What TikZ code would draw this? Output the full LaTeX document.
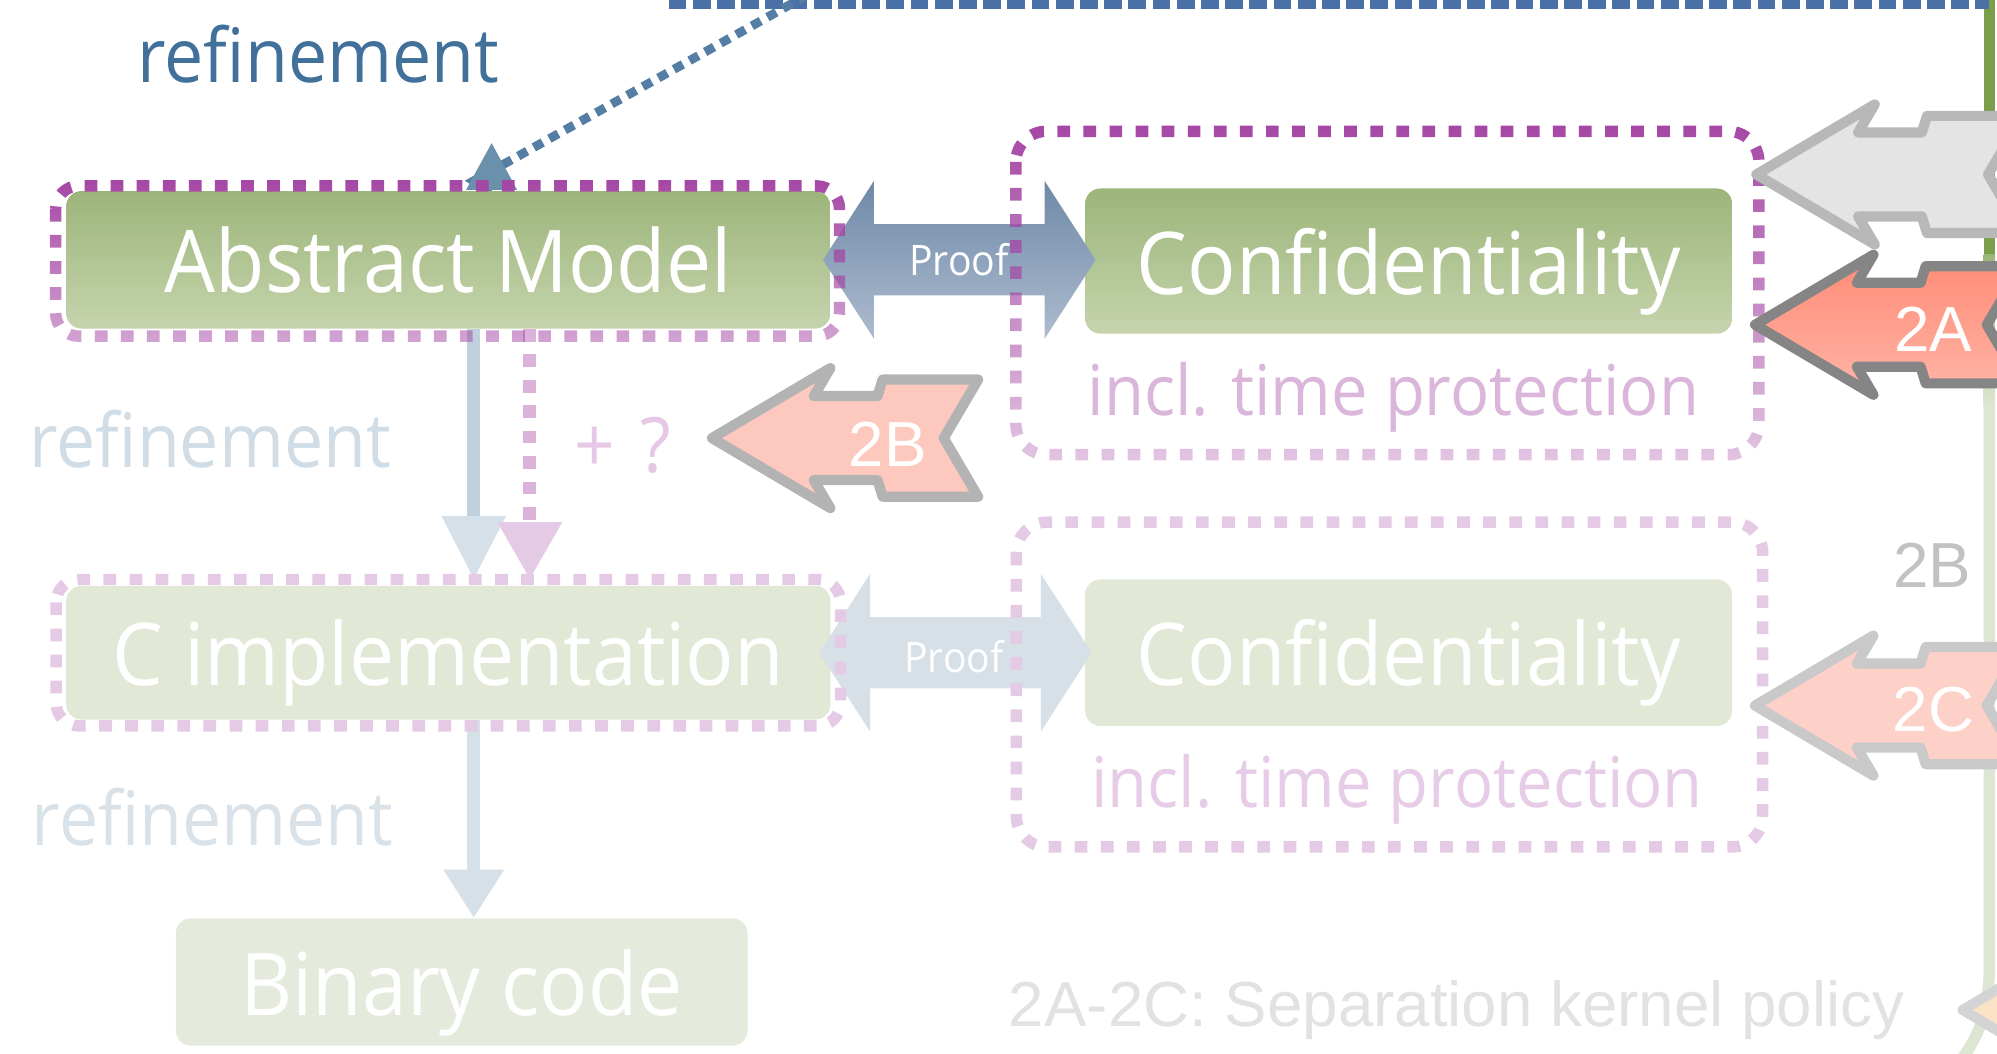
\documentclass[tikz,border=0pt]{standalone}
\usepackage{fontspec}
\setmainfont{Liberation Sans}
\newfontfamily\robo[FakeStretch=0.93]{Open Sans}
\usetikzlibrary{arrows.meta, fadings}

\newcommand{\fsz}[1]{\fontsize{#1}{#1}\selectfont}

\definecolor{refblue}{HTML}{41709A}
\definecolor{tipblue}{HTML}{6B90AC}
\definecolor{dotblue}{HTML}{4A70A8}
\definecolor{gtop}{HTML}{9CB57A}
\definecolor{gbot}{HTML}{C6D4AD}
\definecolor{gpale}{HTML}{E1E8D6}
\definecolor{gbin}{HTML}{E5EBDC}
\definecolor{gline}{HTML}{7A9E4A}
\definecolor{glinepale}{HTML}{DDE6D2}
\definecolor{pdark}{HTML}{A547A5}
\definecolor{ppale}{HTML}{E4CAE4}
\definecolor{pmid}{HTML}{DAB2DA}
\definecolor{incltop}{HTML}{DBB6DB}
\definecolor{inclbot}{HTML}{E6CCE6}
\definecolor{prooftop}{HTML}{6F89A8}
\definecolor{proofbot}{HTML}{ADBCCF}
\definecolor{proofpale}{HTML}{D7DFE7}
\definecolor{refarrow}{HTML}{C0D0DC}
\definecolor{refpale}{HTML}{D6E0E8}
\definecolor{reftext}{HTML}{D0DCE6}
\definecolor{reftextpale}{HTML}{D9E2E9}
\definecolor{qmark}{HTML}{E6C8E6}
\definecolor{sgray}{HTML}{B8B8B8}
\definecolor{sgrayfill}{HTML}{E4E4E4}
\definecolor{satop}{HTML}{FF8A75}
\definecolor{sabot}{HTML}{FFB5A7}
\definecolor{saline}{HTML}{858585}
\definecolor{sbline}{HTML}{B3B3B3}
\definecolor{sbfill}{HTML}{FDC8BE}
\definecolor{scline}{HTML}{C9C9C9}
\definecolor{scfill}{HTML}{FDD0C8}
\definecolor{sdline}{HTML}{D4D4D4}
\definecolor{sdfill}{HTML}{FDE3C6}
\definecolor{captgray}{HTML}{E2E2E2}
\definecolor{sidegray}{HTML}{C2C2C2}

\tikzfading[name=fadehalf, top color=transparent!0, bottom color=transparent!50]
\tikzfading[name=fadelow, top color=transparent!0, bottom color=transparent!68]

\tikzset{
  sigarrow/.pic={
    \path[pic actions, line join=round] (0,0) -- (93,-55) -- (80,-33) -- (130,-33) -- (134,-46)
      -- (209,-46) -- (182,0) -- (209,46) -- (134,46) -- (130,33) -- (80,33) -- (93,55) -- cycle;
  }
}

\begin{document}
\begin{tikzpicture}[x=1pt, y=-1pt,
  box/.style={rounded corners=12pt, minimum width=600pt, minimum height=108pt, inner sep=0pt,
    text height=52pt, text depth=0pt, text=white, font=\robo\fsz{68}},
  outl/.style={line width=9pt, rounded corners=18pt, dash pattern=on 10pt off 10.5pt},
  reflbl/.style={anchor=base, inner sep=0pt, font=\robo\fsz{59}},
  incl/.style={anchor=base, inner sep=0pt, font=\robo\fsz{55}},
  prooflbl/.style={anchor=base, inner sep=0pt, text=white, font=\robo\fsz{33}},
  siglbl/.style={anchor=base, inner sep=0pt, text=white, font=\fsz{50}},
  sigline/.style={line width=8pt}]

  \path[use as bounding box, clip] (0,0) rectangle (1568,827);

  % frame line on the right
  \draw[line width=9pt, gline] (1562,-10) -- (1562,200);
  \shade[top color=gline!75, bottom color=glinepale] (1557.5,200) rectangle (1566.5,320);
  \draw[line width=9pt, glinepale] (1562,320) -- (1562,755) .. controls (1562,800) and (1552,818) .. (1530,845);

  % refinement from above
  \coordinate (topl) at (525,1);
  \coordinate (topr) at (1562,1);
  \coordinate (topsrc) at (634,-4);
  \coordinate (amjoin) at (372,142);
  \coordinate (amfoot) at (386,150);
  \coordinate (amtip) at (386,112);
  \draw[line width=12pt, dotblue, dash pattern=on 14pt off 5pt] (topl) -- (topr);
  \draw[line width=7pt, refblue!90!white, dash pattern=on 8pt off 6pt,
    -{Triangle[width=38pt,length=37pt,color=tipblue]}] (topsrc) -- (amjoin) -- (amfoot) -- (amtip);
  \node[reflbl, text=refblue] (reftop) at (250,65) {refinement};

  % boxes
  \node[box, top color=gtop, bottom color=gbot] (am) at (352,204) {Abstract Model};
  \node[box, top color=gtop, bottom color=gbot, minimum width=508pt, minimum height=114pt] (conf) at (1106,205) {Confidentiality};
  \node[box, fill=gpale, minimum height=105pt] (ci) at (352,512.5) {C implementation};
  \node[box, fill=gpale, minimum width=508pt, minimum height=115pt] (conf2) at (1106,512.5) {Confidentiality};
  \node[box, fill=gbin, minimum width=449pt, minimum height=100pt] (bin) at (362.5,771) {Binary code};

  \node[incl, text=incltop] (incl) at (1094,326) {incl. time protection};
  \node[incl, text=inclbot] (incl2) at (1097,634) {incl. time protection};
  \node[reflbl, text=reftext] (refmid) at (165,367) {refinement};
  \node[reflbl, text=reftextpale] (refbot) at (167,664) {refinement};
  \node[reflbl, text=qmark, font=\robo\fsz{60}] (plusq) at (489,371) {+\,\,?};

  % proof arrows
  \path[top color=prooftop, bottom color=proofbot] ([xshift=-6pt]am.east) -- ++(40,-62) -- ++(0,34)
    -- ++(134,0) -- ++(0,-34) -- ++(40,62) -- ++(-40,62) -- ++(0,-34) -- ++(-134,0) -- ++(0,34) -- cycle;
  \node[prooflbl] (pf) at (753,216) {Proof};
  \path[fill=proofpale] ([xshift=-9pt]ci.east) -- ++(40,-62) -- ++(0,34)
    -- ++(134,0) -- ++(0,-34) -- ++(40,62) -- ++(-40,62) -- ++(0,-34) -- ++(-134,0) -- ++(0,34) -- cycle;
  \node[prooflbl] (pf2) at (749,528) {Proof};

  % refinement arrows
  \coordinate (amoutnw) at (44,146);
  \coordinate (amoutse) at (660,264);
  \coordinate (cioutnw) at (44,455);
  \coordinate (cioutse) at (660,570);
  \coordinate (confoutnw) at (798,103);
  \coordinate (confoutse) at (1382,357);
  \coordinate (conf2outnw) at (798,410);
  \coordinate (conf2outse) at (1384,665);
  \draw[line width=10pt, refarrow, -{Triangle[width=48pt,length=50pt,color=refpale]}]
    ([xshift=20pt]am.south) -- ([xshift=20pt]am.south |- cioutnw);
  \draw[line width=10pt, pmid, dash pattern=on 10pt off 10pt,
    -{Triangle[width=48pt,length=45pt,color=ppale]}] ([xshift=64pt]am.south) -- ([xshift=64pt]am.south |- cioutnw);
  \draw[line width=10pt, refpale, -{Triangle[width=45pt,length=38pt]}]
    ([xshift=20pt]ci.south) -- ([xshift=20pt]ci.south |- bin.north);

  % dotted outlines
  \draw[outl, pdark, path fading=fadehalf] (amoutnw) rectangle (amoutse);
  \draw[outl, ppale] (cioutnw) rectangle (cioutse);
  \draw[outl, pdark, path fading=fadelow, rounded corners=24pt] (confoutnw) rectangle (confoutse);
  \draw[outl, ppale, rounded corners=24pt] (conf2outnw) rectangle (conf2outse);

  % separation kernel arrows
  \pic[draw=sgray, fill=sgrayfill, sigline] at (1379,137) {sigarrow};
  \pic[draw=saline, top color=satop, bottom color=sabot, sigline] at (1378,255) {sigarrow};
  \pic[draw=sbline, fill=sbfill, sigline] at (559,344) {sigarrow};
  \pic[draw=scline, fill=scfill, sigline] at (1378,554) {sigarrow};
  \pic[draw=sdline, fill=sdfill, sigline] at (1541,793) {sigarrow};
  \node[siglbl] (lbl2a) at (1518,276) {2A};
  \node[siglbl] (lbl2b) at (697,366) {2B};
  \node[siglbl] (lbl2c) at (1518,574) {2C};
  \node[siglbl, text=sidegray] (side2b) at (1517,461) {2B};

  \node[anchor=base west, inner sep=0pt, text=captgray, font=\fsz{50}] (policy) at (792,806) {2A-2C: Separation kernel policy};
\end{tikzpicture}
\end{document}
